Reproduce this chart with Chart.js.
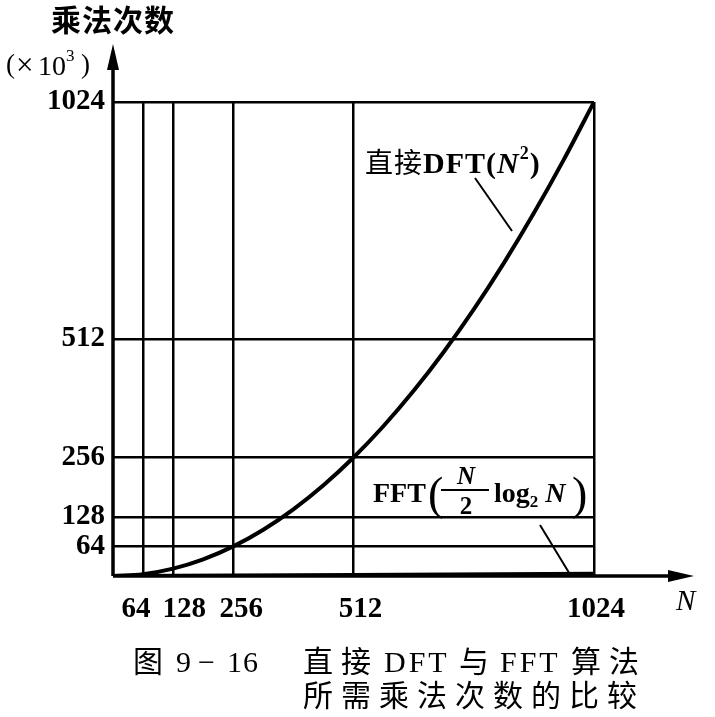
<!DOCTYPE html>
<html>
<head>
<meta charset="utf-8">
<script src="https://cdn.jsdelivr.net/npm/chart.js@4"></script>
<style>
  html, body { margin: 0; padding: 0; background: #fff; }
  #wrap { width: 715px; height: 717px; position: relative; }
</style>
</head>
<body>
<div id="wrap"><canvas id="chart" width="715" height="717"></canvas></div>
<script>
// data (values in x10^3 multiplications)
const nValues = [0, 64, 128, 192, 256, 320, 384, 448, 512, 576, 640, 704, 768, 832, 896, 960, 1024];
const dftCounts = [0, 4, 16, 36, 64, 100, 144, 196, 256, 324, 400, 484, 576, 676, 784, 900, 1024];
const fftN = [0, 64, 128, 256, 512, 1024];
const fftCounts = [0, 0.2, 0.4, 1, 2.3, 5.1];
const xTicks = [64, 128, 256, 512, 1024];
const yTicks = [64, 128, 256, 512, 1024];

const serif = '"Liberation Serif", "DejaVu Serif", serif';
const cjk = '"Noto Sans CJK SC", sans-serif';

// the printed x labels sit a little off their grid lines
const xLabelNudge = { 64: -7, 128: 11, 256: 8, 512: 7, 1024: 2 };

// helper: draw a run of [text, font, dy] pieces left to right
function run(ctx, x, y, pieces) {
  pieces.forEach(([t, f, dy]) => {
    ctx.font = f;
    ctx.fillText(t, x, y + (dy || 0));
    x += ctx.measureText(t).width;
  });
  return x;
}

// axes with arrows, labels, leaders and caption
const decor = {
  id: 'decor',
  afterDraw(chart) {
    const ctx = chart.ctx;
    const a = chart.chartArea;
    const xs = chart.scales.x;
    ctx.save();
    ctx.strokeStyle = '#000';
    ctx.fillStyle = '#000';

    // axes
    ctx.lineWidth = 3.5;
    ctx.beginPath();
    ctx.moveTo(a.left, a.bottom); ctx.lineTo(a.left, 58);
    ctx.moveTo(a.left, a.bottom); ctx.lineTo(680, a.bottom);
    ctx.stroke();
    ctx.beginPath();
    ctx.moveTo(a.left, 44); ctx.lineTo(a.left - 6, 70); ctx.lineTo(a.left + 6, 70); ctx.closePath();
    ctx.fill();
    ctx.beginPath();
    ctx.moveTo(694, a.bottom); ctx.lineTo(668, a.bottom - 6); ctx.lineTo(668, a.bottom + 6); ctx.closePath();
    ctx.fill();

    // x tick labels
    ctx.textAlign = 'center';
    ctx.textBaseline = 'alphabetic';
    ctx.font = 'bold 29px ' + serif;
    xTicks.forEach(v => ctx.fillText(String(v), xs.getPixelForValue(v) + xLabelNudge[v], 617));
    ctx.textAlign = 'left';

    // y title
    ctx.font = 'bold 30px ' + cjk;
    ctx.letterSpacing = '1px';
    ctx.fillText('乘法次数', 51, 31);
    ctx.letterSpacing = '0px';
    ctx.font = '27px ' + serif;
    ctx.fillText('(', 6, 73);
    ctx.font = '31px ' + serif;
    ctx.fillText('×', 16, 75);
    ctx.font = '28px ' + serif;
    ctx.fillText('10', 38, 75);
    ctx.font = '17px ' + serif;
    ctx.fillText('3', 66, 61);
    ctx.font = '27px ' + serif;
    ctx.fillText(')', 81, 73);

    // x title
    ctx.font = 'italic 29px ' + serif;
    ctx.fillText('N', 676, 610);

    // DFT label
    ctx.letterSpacing = '1px';
    run(ctx, 365, 173, [
      ['直接', '28px ' + cjk],
      ['DFT(', 'bold 30px ' + serif],
      ['N', 'italic bold 30px ' + serif],
      ['2', 'bold 18px ' + serif, -14],
      [')', 'bold 30px ' + serif]
    ]);
    ctx.letterSpacing = '0px';

    // FFT label
    ctx.font = 'bold 28px ' + serif;
    ctx.fillText('FFT', 373, 502);
    ctx.font = '46px ' + serif;
    ctx.fillText('(', 428, 509);
    ctx.fillText(')', 572, 509);
    ctx.textAlign = 'center';
    ctx.font = 'italic bold 25px ' + serif;
    ctx.fillText('N', 466, 484);
    ctx.font = 'bold 25px ' + serif;
    ctx.fillText('2', 466, 514);
    ctx.lineWidth = 2;
    ctx.beginPath(); ctx.moveTo(441, 490); ctx.lineTo(489, 490); ctx.stroke();
    ctx.textAlign = 'left';
    run(ctx, 494, 502, [
      ['log', 'bold 28px ' + serif],
      ['2', 'bold 17px ' + serif, 5],
      [' N', 'italic bold 28px ' + serif]
    ]);

    // leaders
    ctx.lineWidth = 2;
    ctx.beginPath();
    ctx.moveTo(475, 178); ctx.lineTo(512, 231);
    ctx.moveTo(540, 525); ctx.lineTo(571, 576);
    ctx.stroke();

    // caption
    const capCjk = '30px ' + cjk;
    const capLat = '30px ' + serif;
    const line1 = [
      ['图', capCjk, 133, 0], ['9', capLat, 176, 0], ['−', capLat, 198, 0], ['16', capLat, 227, 1],
      ['直', capCjk, 303, 0], ['接', capCjk, 341, 0], ['DFT', capLat, 384, 3], ['与', capCjk, 459, 0],
      ['FFT', capLat, 500, 3], ['算', capCjk, 571, 0], ['法', capCjk, 609, 0]
    ];
    line1.forEach(([t, f, x, sp]) => {
      ctx.font = f;
      ctx.letterSpacing = sp + 'px';
      ctx.fillText(t, x, 672);
    });
    ctx.font = capCjk;
    ctx.letterSpacing = '8px';
    ctx.fillText('所需乘法次数的比较', 303, 706);
    ctx.letterSpacing = '0px';
    ctx.restore();
  }
};

new Chart(document.getElementById('chart'), {
  type: 'line',
  data: {
    datasets: [
      {
        label: '直接DFT',
        data: nValues.map((n, i) => ({ x: n, y: dftCounts[i] })),
        borderColor: '#000',
        borderWidth: 4,
        pointRadius: 0,
        cubicInterpolationMode: 'monotone',
        fill: false
      },
      {
        label: 'FFT',
        data: fftN.map((n, i) => ({ x: n, y: fftCounts[i] })),
        borderColor: '#000',
        borderWidth: 4,
        pointRadius: 0,
        fill: false
      }
    ]
  },
  options: {
    responsive: false,
    animation: false,
    layout: { padding: { left: 0, right: 121, top: 102, bottom: 0 } },
    plugins: { legend: { display: false }, tooltip: { enabled: false } },
    scales: {
      x: {
        type: 'linear',
        min: 0,
        max: 1024,
        afterBuildTicks: s => { s.ticks = xTicks.map(v => ({ value: v })); },
        afterFit: s => { s.height = 141; },
        grid: { color: '#000', lineWidth: 2.5, drawTicks: false },
        border: { display: false },
        ticks: { display: false }
      },
      y: {
        type: 'linear',
        min: 0,
        max: 1024,
        afterBuildTicks: s => { s.ticks = yTicks.map(v => ({ value: v })); },
        afterFit: s => { s.width = 113; },
        grid: { color: '#000', lineWidth: 2.5, drawTicks: false },
        border: { display: false },
        ticks: {
          color: '#000',
          padding: 8,
          autoSkip: false,
          callback: v => String(v),
          font: { family: serif, size: 29, weight: 'bold' }
        }
      }
    }
  },
  plugins: [decor]
});
</script>
</body>
</html>
